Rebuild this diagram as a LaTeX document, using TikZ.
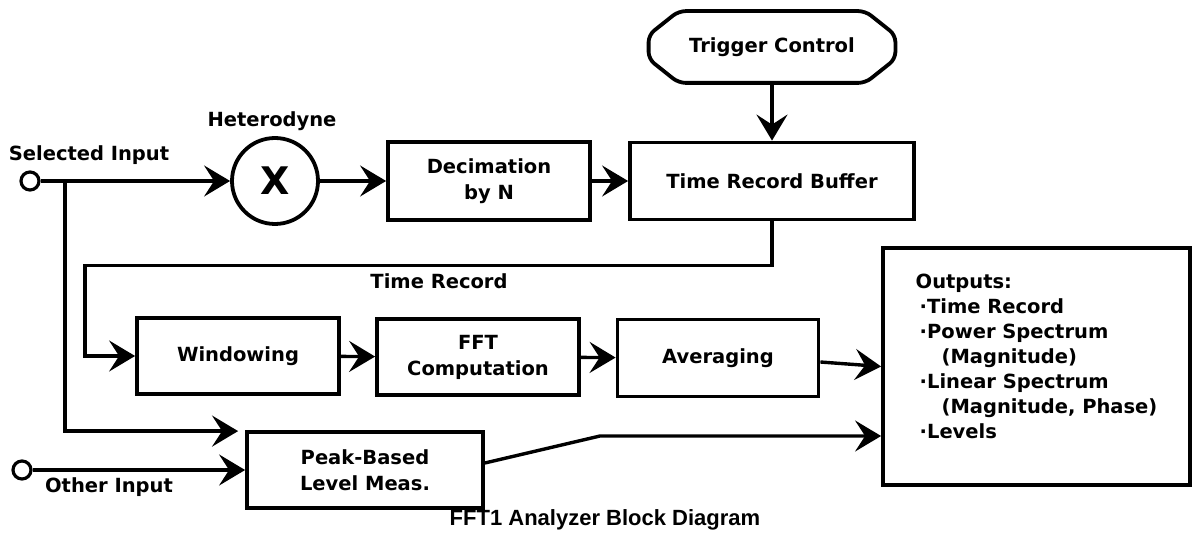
\documentclass[tikz,border=0pt]{standalone}
\usepackage{fontspec}
\setmainfont{DejaVu Sans}
\newfontfamily\captionfont{Liberation Sans}
\usetikzlibrary{positioning, calc, arrows.meta}
\tikzset{
    block node/.style={rectangle, draw, line width=3.8pt, align=center, inner sep=2pt, font=\fontsize{19.5}{26}\selectfont\bfseries},
    mixer node/.style={circle, draw, line width=3.8pt, minimum size=86pt, inner sep=0pt, font=\fontsize{38}{38}\selectfont\bfseries},
    port node/.style={circle, draw, line width=3.2pt, minimum size=18pt, inner sep=0pt},
    signal label/.style={font=\fontsize{19.5}{26}\selectfont\bfseries, inner sep=0pt},
    flow line/.style={line width=3.4pt, -{Stealth[length=26pt, width=31pt, inset=10pt]}},
}

\begin{document}
\begin{tikzpicture}[x=1pt, y=-1pt]
    \useasboundingbox (0,0) rectangle (1195,537);
    % blocks
    \node[port node] (sel) at (30,181) {};
    \node[signal label] (sellabel) at (89,155) {Selected Input};
    \node[mixer node] (het) at (275,181) {X};
    \node[signal label] (hetlabel) at (272,121) {Heterodyne};
    \node[block node, minimum width=202pt, minimum height=78pt] (dec) at (489,181) {Decimation\\by N};
    \node[block node, minimum width=284pt, minimum height=77pt] (trb) at (772,181) {Time Record Buffer};
    \node[block node, draw=none, minimum width=243pt, minimum height=68pt] (trig) at (772,47) {Trigger Control};
    \draw[line width=3.8pt, rounded corners=7pt]
        ($(trig.north west)+(30,0)$) -- ($(trig.north east)+(-30,0)$) -- ($(trig.east)+(0,-12)$)
        -- ($(trig.east)+(0,12)$) -- ($(trig.south east)+(-30,0)$) -- ($(trig.south west)+(30,0)$)
        -- ($(trig.west)+(0,12)$) -- ($(trig.west)+(0,-12)$) -- cycle;
    \node[block node, minimum width=202pt, minimum height=76pt] (win) at (238,356) {Windowing};
    \node[block node, minimum width=202pt, minimum height=76pt] (fft) at (478,357) {FFT\\Computation};
    \node[block node, minimum width=201pt, minimum height=77pt] (avg) at (718,358) {Averaging};
    \node[block node, minimum width=236pt, minimum height=76pt] (peak) at (365,470) {Peak-Based\\Level Meas.};
    \node[port node] (oth) at (22,470) {};
    \node[signal label] (othlabel) at (109,487) {Other Input};
    \node[block node, minimum width=307pt, minimum height=237pt, align=left, font=\fontsize{19.5}{25}\selectfont\bfseries] (outs) at (1036.5,366.5) {%
        Outputs:\\
        \hspace*{4pt}·Time Record\\
        \hspace*{4pt}·Power Spectrum\\
        \hspace*{26pt}(Magnitude)\\
        \hspace*{4pt}·Linear Spectrum\\
        \hspace*{26pt}(Magnitude, Phase)\\
        \hspace*{4pt}·Levels\\[-5pt]};
    \node[signal label] (reclabel) at (439,281) {Time Record};
    \node[inner sep=0pt, font=\captionfont\bfseries\fontsize{22}{24}\selectfont] (caption) at (605,520) {FFT1 Analyzer Block Diagram};
    % signal flow
    \coordinate (split) at (65,181);
    \coordinate (kink) at (600,436);
    \draw[flow line] (sel) -- (het);
    \draw[flow line] (het) -- (dec);
    \draw[flow line] (dec) -- (trb);
    \draw[flow line] (trig) -- (trb);
    \draw[flow line] (trb.south) -- ++(0,44) -| ($(win.west)+(-50,0)$) -- (win.west);
    \draw[flow line] (win) -- (fft);
    \draw[flow line] (fft) -- (avg);
    \draw[flow line] ($(avg.east)+(0,4)$) -- (outs.west);
    \draw[flow line] (split) |- ($(peak.north west)+(-7,1)$);
    \draw[flow line] (oth) -- (peak.west);
    \draw[flow line] ($(peak.east)+(0,-7)$) -- (kink) -- (kink -| outs.west);
\end{tikzpicture}
\end{document}
